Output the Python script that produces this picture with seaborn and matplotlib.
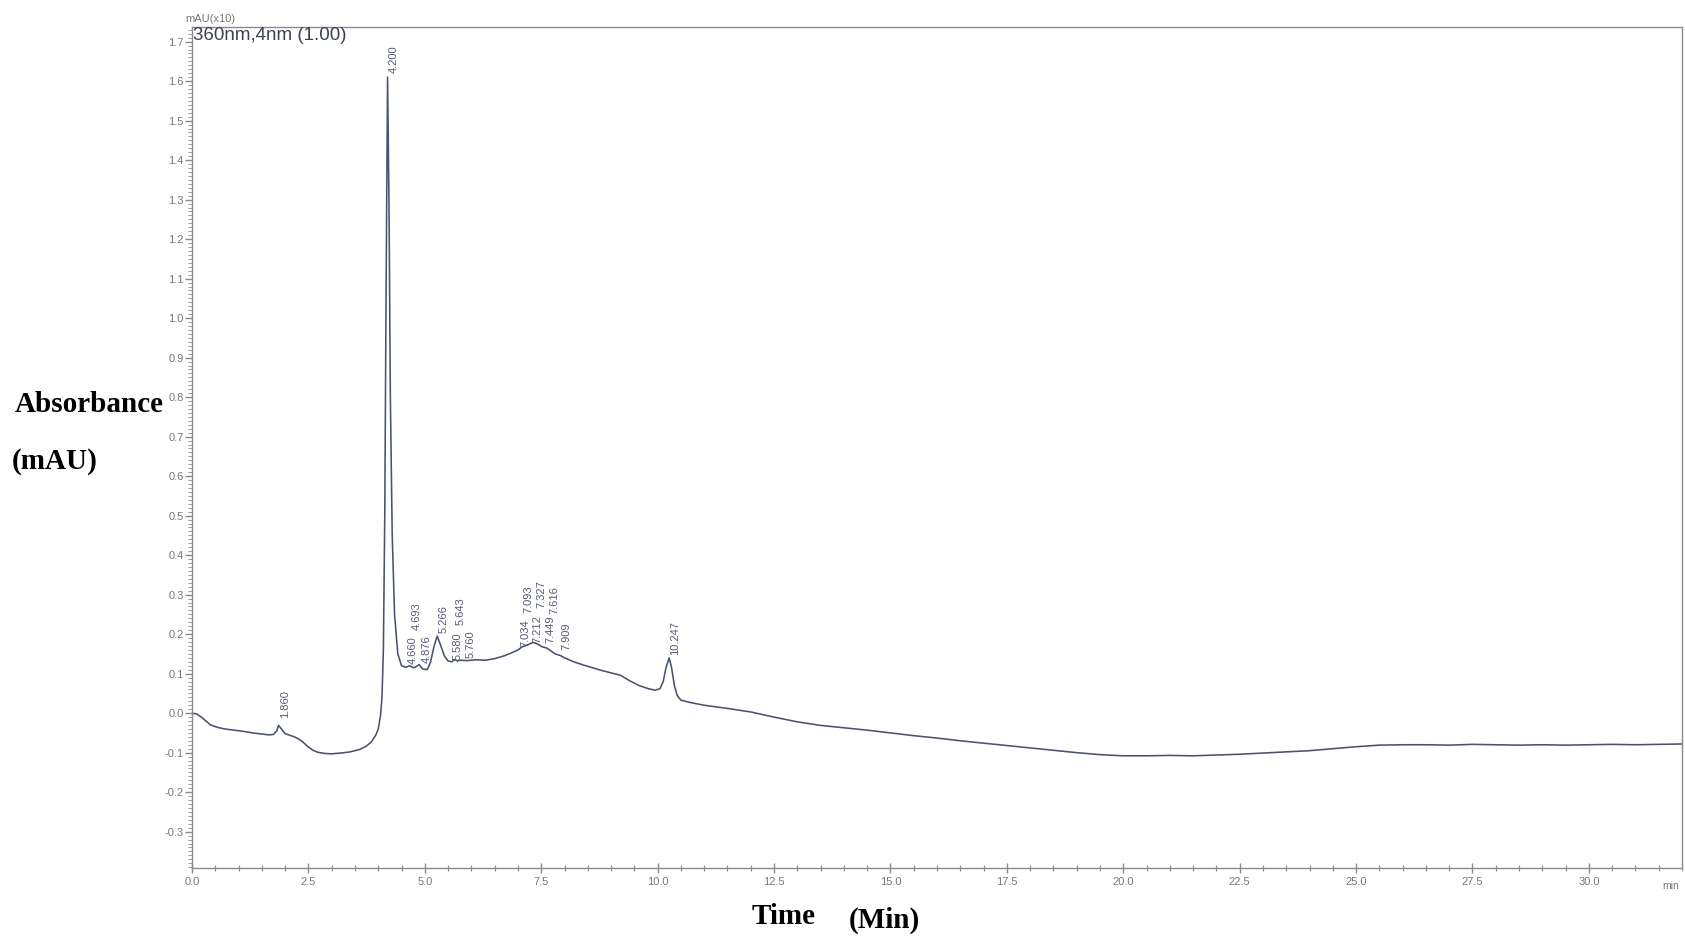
import numpy as np
import pandas as pd
import matplotlib
matplotlib.use("Agg")
import matplotlib.pyplot as plt
from matplotlib.ticker import MultipleLocator, FormatStrFormatter
import seaborn as sns

# Chromatogram trace at 360 nm (retention time in min, absorbance in mAU x10)
time_min = [
    0.00, 0.10, 0.20, 0.30, 0.40, 0.55, 0.70, 0.90, 1.10, 1.30, 1.50, 1.65, 1.75, 1.82,
    1.86, 1.92, 2.00, 2.10, 2.20, 2.30, 2.40, 2.50, 2.60, 2.70, 2.85, 3.00, 3.20, 3.40,
    3.60, 3.75, 3.85, 3.95, 4.00, 4.05, 4.08, 4.11, 4.14, 4.17, 4.20, 4.23, 4.26, 4.30,
    4.35, 4.42, 4.50, 4.60, 4.66, 4.69, 4.75, 4.82, 4.876, 4.95, 5.05, 5.12, 5.20, 5.266,
    5.33, 5.42, 5.50, 5.58, 5.643, 5.70, 5.76, 5.90, 6.10, 6.30, 6.50, 6.70, 6.85, 7.00,
    7.034, 7.093, 7.15, 7.212, 7.30, 7.327, 7.40, 7.449, 7.52, 7.616, 7.70, 7.80, 7.909,
    8.00, 8.20, 8.40, 8.60, 8.80, 9.00, 9.20, 9.40, 9.60, 9.80, 9.95, 10.05, 10.12, 10.18,
    10.247, 10.30, 10.36, 10.42, 10.50, 10.70, 11.00, 11.50, 12.00, 12.50, 13.00, 13.50,
    14.00, 14.50, 15.00, 15.50, 16.00, 16.50, 17.00, 17.50, 18.00, 18.50, 19.00, 19.50,
    20.00, 20.50, 21.00, 21.50, 22.00, 22.50, 23.00, 23.50, 24.00, 24.50, 25.00, 25.50,
    26.00, 26.50, 27.00, 27.50, 28.00, 28.50, 29.00, 29.50, 30.00, 30.50, 31.00, 31.50,
    32.00,
]
absorbance = [
    0.000, -0.002, -0.010, -0.020, -0.030, -0.036, -0.040, -0.043, -0.046, -0.050, -0.053,
    -0.055, -0.054, -0.045, -0.031, -0.040, -0.052, -0.056, -0.060, -0.066, -0.075, -0.086,
    -0.094, -0.099, -0.102, -0.103, -0.101, -0.098, -0.092, -0.083, -0.073, -0.055, -0.040,
    -0.005, 0.040, 0.160, 0.500, 1.100, 1.610, 1.300, 0.800, 0.450, 0.250, 0.150, 0.120,
    0.116, 0.120, 0.119, 0.115, 0.118, 0.123, 0.112, 0.110, 0.128, 0.170, 0.195, 0.175,
    0.145, 0.132, 0.130, 0.136, 0.132, 0.134, 0.133, 0.135, 0.134, 0.138, 0.145, 0.152,
    0.160, 0.163, 0.168, 0.170, 0.173, 0.178, 0.179, 0.176, 0.173, 0.168, 0.165, 0.158,
    0.150, 0.146, 0.140, 0.130, 0.122, 0.115, 0.108, 0.102, 0.096, 0.082, 0.070, 0.062,
    0.058, 0.062, 0.080, 0.115, 0.140, 0.115, 0.070, 0.045, 0.033, 0.027, 0.020, 0.012,
    0.003, -0.010, -0.022, -0.031, -0.037, -0.043, -0.050, -0.057, -0.063, -0.070, -0.076,
    -0.082, -0.088, -0.094, -0.100, -0.105, -0.108, -0.108, -0.107, -0.108, -0.106, -0.104,
    -0.101, -0.098, -0.095, -0.090, -0.085, -0.081, -0.080, -0.080, -0.081, -0.079, -0.080,
    -0.081, -0.080, -0.081, -0.080, -0.079, -0.080, -0.079, -0.078,
]

# Integrated peaks (retention times, min)
peak_times = [1.860, 4.200, 4.660, 4.693, 4.876, 5.266, 5.580, 5.643, 5.760,
              7.034, 7.093, 7.212, 7.327, 7.449, 7.616, 7.909, 10.247]
# label placement (pixels): sideways nudge and lift above the trace,
# staggered in two rows so crowded labels stay readable
label_dx = [6, 6, 4, 6, 8, 6, 6, 6, 10, 6, 6, 10, 8, 12, 8, 6, 6]
label_lift = [7, 4, 2, 36, 2, 3, 2, 34, 2, 2, 34, 2, 34, 2, 34, 5, 3]

x_ticks = np.arange(0, 30.01, 2.5)
y_ticks = np.arange(-0.3, 1.71, 0.1)

sns.set_theme(style="white")
plt.rcParams["font.family"] = ["Liberation Sans", "DejaVu Sans"]
plt.rcParams["axes.unicode_minus"] = False

fig = plt.figure(figsize=(16.85, 9.39), dpi=100)
fig.patch.set_facecolor("white")
ax = fig.add_axes([192 / 1685, 1 - 868 / 939, (1682 - 192) / 1685, (868 - 27) / 939])

df = pd.DataFrame({"Time": time_min, "Abs": absorbance})
trace_color = "#4a5270"
sns.lineplot(data=df, x="Time", y="Abs", ax=ax, color=trace_color, linewidth=1.15,
             estimator=None, sort=False)

ax.set_xlim(0, 32.0)
ax.set_ylim(-0.392, 1.737)
ax.set_xlabel("")
ax.set_ylabel("")

ax.set_xticks(x_ticks)
ax.xaxis.set_minor_locator(MultipleLocator(0.5))
ax.xaxis.set_major_formatter(FormatStrFormatter("%.1f"))
ax.set_yticks(y_ticks)
ax.yaxis.set_minor_locator(MultipleLocator(0.01))
ax.yaxis.set_major_formatter(FormatStrFormatter("%.1f"))

spine_color = "#8a8a8a"
for s in ax.spines.values():
    s.set_color(spine_color)
    s.set_linewidth(1.0)

ax.tick_params(axis="x", which="major", direction="inout", length=7, width=1,
               color=spine_color, labelsize=8, labelcolor="#777777", pad=3)
ax.tick_params(axis="x", which="minor", direction="inout", length=5, width=0.8,
               color=spine_color)
ax.tick_params(axis="y", which="major", direction="out", length=5, width=1,
               color=spine_color, labelsize=8, labelcolor="#777777", pad=1)
ax.tick_params(axis="y", which="minor", direction="out", length=3, width=0.6,
               color=spine_color)
ax.tick_params(bottom=True, left=True, which="both")

# Peak retention-time labels
for pt, dx, lift in zip(peak_times, label_dx, label_lift):
    yv = np.interp(pt, time_min, absorbance)
    ax.annotate(f"{pt:.3f}", xy=(pt, yv), xytext=(dx, lift), textcoords="offset pixels",
                rotation=90, ha="center", va="bottom", fontsize=8, color="#555b70")

# Header texts
fig.text(185 / 1685, 1 - 19 / 939, "mAU(x10)", fontsize=8, color="#777777",
         ha="left", va="center")
fig.text(193 / 1685, 1 - 36 / 939, "360nm,4nm (1.00)", fontsize=13.5, color="#3a4258",
         ha="left", va="center")
fig.text(1671 / 1685, 1 - 886 / 939, "min", fontsize=7.5, color="#777777",
         ha="center", va="center")

# Axis titles
serif = ["Liberation Serif", "DejaVu Serif"]
fig.text(15 / 1685, 1 - 405 / 939, "Absorbance", fontsize=21, fontweight="bold",
         family=serif, ha="left", va="center", color="black")
fig.text(12 / 1685, 1 - 462 / 939, "(mAU)", fontsize=21, fontweight="bold",
         family=serif, ha="left", va="center", color="black")
fig.text(752 / 1685, 1 - 917 / 939, "Time", fontsize=21, fontweight="bold",
         family=serif, ha="left", va="center", color="black")
fig.text(849 / 1685, 1 - 920 / 939, "(Min)", fontsize=21, fontweight="bold",
         family=serif, ha="left", va="center", color="black")

fig.savefig("out.png", dpi=100, facecolor="white")
